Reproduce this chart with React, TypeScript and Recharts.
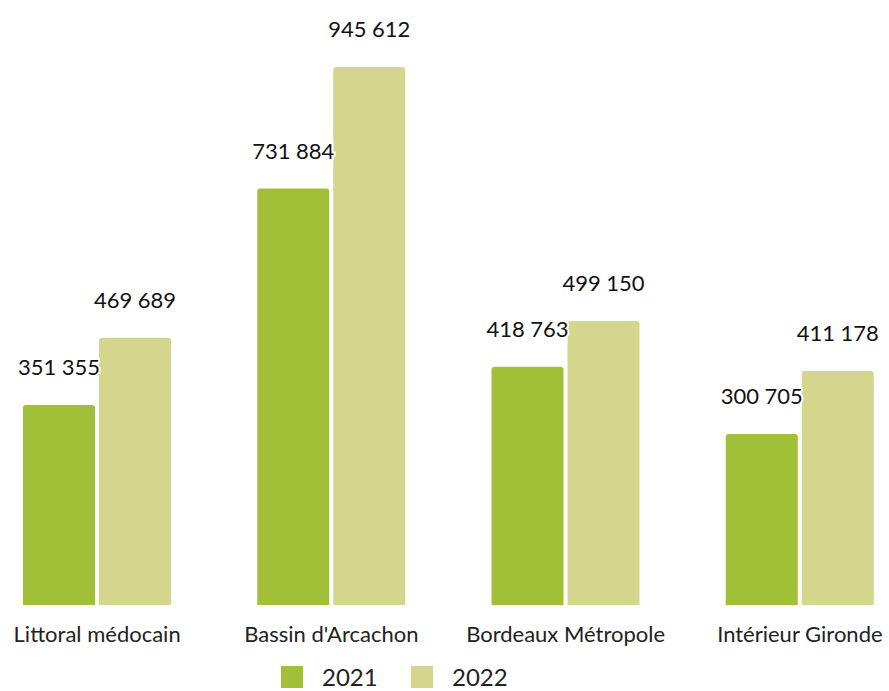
import { BarChart, Bar, XAxis, YAxis, LabelList } from 'recharts'

const categories = ['Littoral médocain', "Bassin d'Arcachon", 'Bordeaux Métropole', 'Intérieur Gironde']
const values2021 = [351355, 731884, 418763, 300705]
const values2022 = [469689, 945612, 499150, 411178]

const data = categories.map((c, i) => ({ name: c, y2021: values2021[i], y2022: values2022[i] }))

const FONT = 'Lato, "Open Sans", sans-serif'
const GREEN = '#A2C037'
const KHAKI = '#D5D68D'

const fmt = (v: number) => v.toLocaleString('fr-FR').replace(/\s/g, '\u202F')

const ValueLabel = (props: any) => {
  const { x, y, width, value } = props
  return (
    <text
      x={x + width / 2}
      y={y - 30}
      textAnchor="middle"
      fontFamily={FONT}
      fontSize={22}
      fill="#111"
      stroke="#fff"
      strokeWidth={4}
      paintOrder="stroke"
    >
      {fmt(value)}
    </text>
  )
}

const CatTick = (props: any) => {
  const { x, y, payload } = props
  return (
    <text x={x} y={y + 29} textAnchor="middle" fontFamily={FONT} fontSize={22} fill="#222">
      {payload.value}
    </text>
  )
}

export default function App() {
  return (
    <div style={{ position: 'absolute', left: 0, top: 0, width: 889, height: 691, overflow: 'hidden', background: '#fff' }}>
      <div style={{ position: 'absolute', left: -20, top: 0 }}>
        <BarChart
          width={937}
          height={691}
          data={data}
          margin={{ top: 36, right: 0, bottom: 0, left: 0 }}
          barSize={72}
          barGap={4}
        >
          <XAxis dataKey="name" axisLine={false} tickLine={false} tick={<CatTick />} height={86} interval={0} />
          <YAxis hide domain={[0, 1000000]} />
          <Bar dataKey="y2021" fill={GREEN} radius={[3, 3, 0, 0]} isAnimationActive={false}>
            <LabelList dataKey="y2021" content={<ValueLabel />} />
          </Bar>
          <Bar dataKey="y2022" fill={KHAKI} radius={[3, 3, 0, 0]} isAnimationActive={false}>
            <LabelList dataKey="y2022" content={<ValueLabel />} />
          </Bar>
        </BarChart>
      </div>
      <div style={{ position: 'absolute', left: 281, top: 662, display: 'flex', alignItems: 'center', fontFamily: FONT, fontSize: 24, color: '#222' }}>
        <span style={{ width: 22, height: 22, background: GREEN, display: 'inline-block' }} />
        <span style={{ marginLeft: 19, width: 89 }}>2021</span>
        <span style={{ width: 22, height: 22, background: KHAKI, display: 'inline-block' }} />
        <span style={{ marginLeft: 19 }}>2022</span>
      </div>
    </div>
  )
}
